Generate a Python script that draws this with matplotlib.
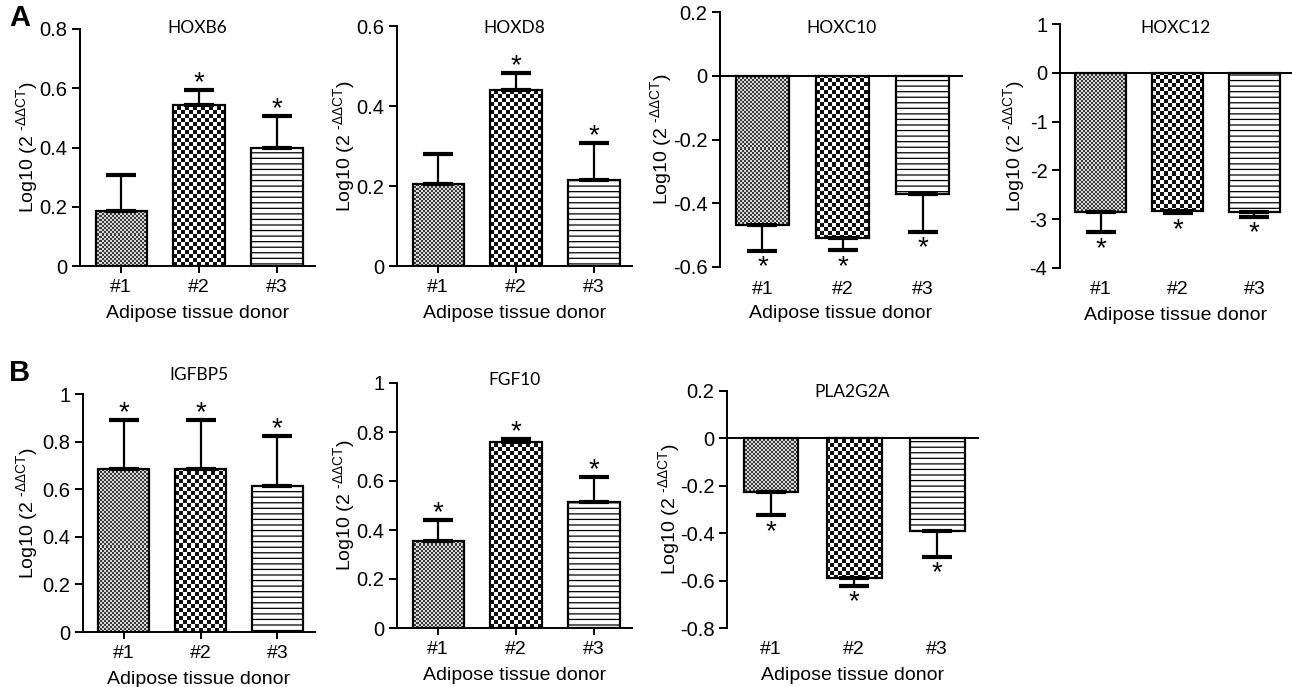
import numpy as np
import matplotlib
matplotlib.use('Agg')
import matplotlib.pyplot as plt

plt.rcParams['font.family'] = ['Liberation Sans', 'DejaVu Sans']
plt.rcParams['mathtext.fontset'] = 'custom'
plt.rcParams['mathtext.rm'] = 'Liberation Sans'
plt.rcParams['hatch.linewidth'] = 0.9

W, H = 1292, 687

# данные: значения столбцов, конец планки ошибки, звёздочки
donors = ['#1', '#2', '#3']
xlabel = 'Adipose tissue donor'
ylabel = 'Log10 (2 $^{\\mathregular{\u2010ΔΔCT}}$)'

genes = ['HOXB6', 'HOXD8', 'HOXC10', 'HOXC12', 'IGFBP5', 'FGF10', 'PLA2G2A']

hoxb6_vals = [0.186, 0.543, 0.40]
hoxb6_err = [0.307, 0.594, 0.506]
hoxb6_star = [0, 1, 1]

hoxd8_vals = [0.205, 0.44, 0.215]
hoxd8_err = [0.28, 0.482, 0.308]
hoxd8_star = [0, 1, 1]

hoxc10_vals = [-0.469, -0.51, -0.372]
hoxc10_err = [-0.55, -0.547, -0.49]
hoxc10_star = [1, 1, 1]

hoxc12_vals = [-2.86, -2.84, -2.86]
hoxc12_err = [-3.27, -2.88, -2.95]
hoxc12_star = [1, 1, 1]

igfbp5_vals = [0.685, 0.685, 0.613]
igfbp5_err = [0.89, 0.89, 0.824]
igfbp5_star = [1, 1, 1]

fgf10_vals = [0.357, 0.76, 0.514]
fgf10_err = [0.44, 0.77, 0.616]
fgf10_star = [1, 1, 1]

pla2g2a_vals = [-0.227, -0.59, -0.39]
pla2g2a_err = [-0.324, -0.623, -0.50]
pla2g2a_star = [1, 1, 1]

yticks = {
    'HOXB6': [0, 0.2, 0.4, 0.6, 0.8],
    'HOXD8': [0, 0.2, 0.4, 0.6],
    'HOXC10': [-0.6, -0.4, -0.2, 0, 0.2],
    'HOXC12': [-4, -3, -2, -1, 0, 1],
    'IGFBP5': [0, 0.2, 0.4, 0.6, 0.8, 1],
    'FGF10': [0, 0.2, 0.4, 0.6, 0.8, 1],
    'PLA2G2A': [-0.8, -0.6, -0.4, -0.2, 0, 0.2],
}

data = {
    'HOXB6': (hoxb6_vals, hoxb6_err, hoxb6_star),
    'HOXD8': (hoxd8_vals, hoxd8_err, hoxd8_star),
    'HOXC10': (hoxc10_vals, hoxc10_err, hoxc10_star),
    'HOXC12': (hoxc12_vals, hoxc12_err, hoxc12_star),
    'IGFBP5': (igfbp5_vals, igfbp5_err, igfbp5_star),
    'FGF10': (fgf10_vals, fgf10_err, fgf10_star),
    'PLA2G2A': (pla2g2a_vals, pla2g2a_err, pla2g2a_star),
}

# раскладка в пикселях: left, right, top, bottom, title_y, ylabel_x
layout = {
    'HOXB6': (80, 315, 29, 266, 28, 28),
    'HOXD8': (397, 632, 26, 266, 28, 345),
    'HOXC10': (720, 962, 12, 267, 28, 662),
    'HOXC12': (1060, 1292, 24, 268, 28, 1015),
    'IGFBP5': (83, 315, 394, 632, 375, 28),
    'FGF10': (397, 632, 383, 628, 380, 345),
    'PLA2G2A': (727, 978, 391, 628, 392, 670),
}

fig = plt.figure(figsize=(W / 100, H / 100), dpi=100)


def texture(ax, bar, cell, dark, light):
    # шахматная заливка столбца, клетка cell пикселей
    x0, w = bar.get_x(), bar.get_width()
    y0, h = bar.get_y(), bar.get_height()
    p0 = ax.transData.transform((x0, min(y0, y0 + h)))
    p1 = ax.transData.transform((x0 + w, max(y0, y0 + h)))
    px0, py0 = np.floor(p0[0]), np.floor(p0[1])
    nx = int((p1[0] - px0) / cell) + 2
    ny = int((p1[1] - py0) / cell) + 2
    inv = ax.transData.inverted()
    d0 = inv.transform((px0, py0))
    d1 = inv.transform((px0 + nx * cell, py0 + ny * cell))
    img = np.add.outer(np.arange(ny), np.arange(nx)) % 2
    cmap = matplotlib.colors.ListedColormap([dark, light])
    im = ax.imshow(img, cmap=cmap, extent=(d0[0], d1[0], d0[1], d1[1]),
                   interpolation='nearest', aspect='auto', origin='lower', zorder=1.5)
    im.set_clip_path(bar)


x = np.arange(3)
for g in genes:
    vals, err, star = data[g]
    l, r, t, b, ty, ylx = layout[g]
    ax = fig.add_axes([l / W, (H - b) / H, (r - l) / W, (b - t) / H])
    ticks = yticks[g]
    ax.set_xlim(-0.53, 2.49)
    ax.set_ylim(ticks[0], ticks[-1])

    bars = ax.bar(x, vals, width=0.66, facecolor='white', edgecolor='black',
                  linewidth=1.6, zorder=2)
    bars[2].set_hatch('---')
    texture(ax, bars[0], 2, '#3a3a3a', '#d8d8d8')
    texture(ax, bars[1], 4, '#111111', '#ffffff')
    for bar in bars[:2]:
        bar.set_facecolor('none')

    negative = vals[0] < 0
    for i in range(3):
        d = err[i] - vals[i]
        yerr = [[0], [d]] if d > 0 else [[-d], [0]]
        ax.errorbar(x[i], vals[i], yerr=yerr, fmt='none', ecolor='black',
                    elinewidth=1.6, capsize=11, capthick=3, zorder=3)
        if star[i]:
            off = -17 if negative else 0
            ax.annotate('*', xy=(x[i], err[i]), xytext=(0, off),
                        textcoords='offset points', ha='center', va='baseline',
                        fontsize=20)

    ax.spines['top'].set_visible(False)
    ax.spines['right'].set_visible(False)
    ax.spines['left'].set_linewidth(1.4)
    ax.spines['bottom'].set_linewidth(1.4)
    ax.spines['bottom'].set_position(('data', 0))
    ax.set_yticks(ticks)
    ax.set_yticklabels([f'{v:g}' for v in ticks])
    ax.tick_params(axis='y', length=6, width=1.4, labelsize=14.5, pad=3)
    ax.set_xticks(x)
    ax.set_xticklabels([])
    if negative:
        ax.tick_params(axis='x', length=0)
    else:
        ax.tick_params(axis='x', length=5, width=1.4)

    for i, lab in enumerate(donors):
        ax.text(x[i], -22 / (b - t), lab, transform=ax.get_xaxis_transform(),
                ha='center', va='center', fontsize=14)
    fig.text((l + r) / 2 / W, 1 - (b + 47) / H, xlabel, ha='center', va='center',
             fontsize=14)
    fig.text((l + r) / 2 / W, 1 - ty / H, g, ha='center', va='center',
             fontsize=12.5, family=['Lato', 'DejaVu Sans'])
    fig.text(ylx / W, 1 - (t + b) / 2 / H, ylabel, rotation=90, ha='center',
             va='center', fontsize=14)

fig.text(9 / W, 1 - 18 / H, 'A', fontsize=21, fontweight='bold', va='center')
fig.text(9 / W, 1 - 373 / H, 'B', fontsize=21, fontweight='bold', va='center')

fig.savefig('out.png', dpi=100)
